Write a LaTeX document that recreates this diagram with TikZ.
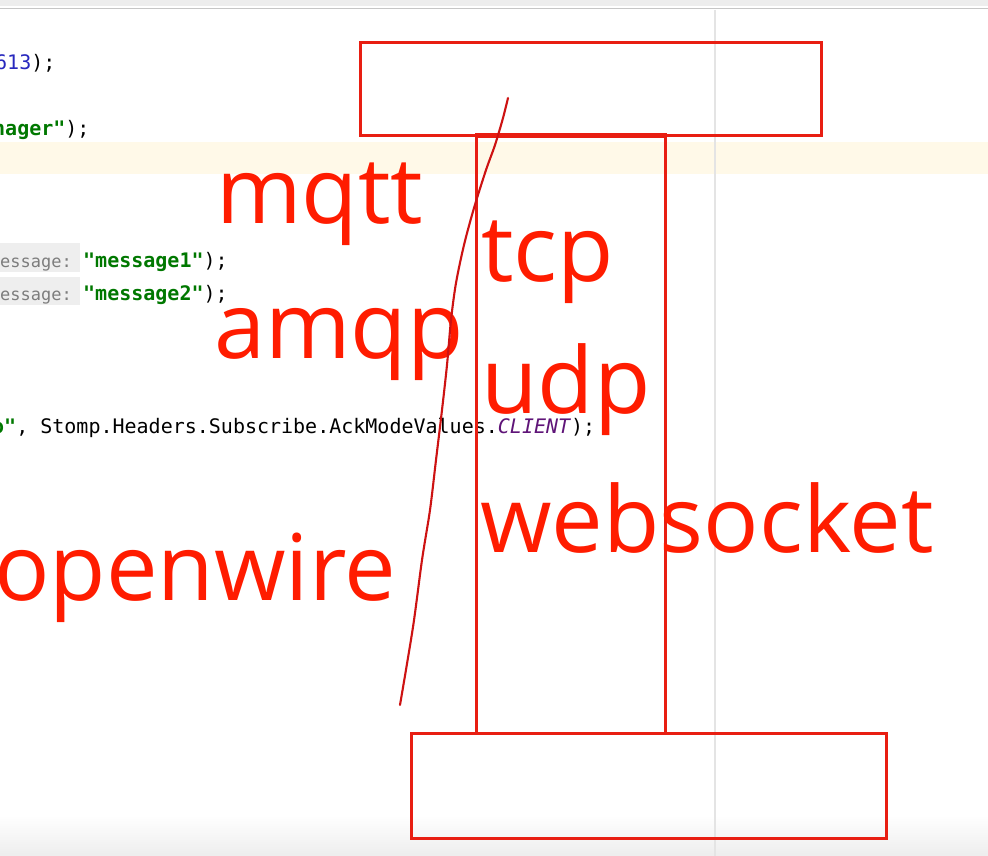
\documentclass[tikz,border=0pt]{standalone}
\usepackage{fontspec}
\setmainfont{Open Sans}
\newfontfamily\codefont{DejaVu Sans Mono}
\usetikzlibrary{calc}
\definecolor{annot}{RGB}{255,28,0}
\definecolor{boxred}{RGB}{232,30,18}
\definecolor{handred}{RGB}{205,18,18}
\definecolor{numblue}{RGB}{40,40,190}
\definecolor{strgreen}{RGB}{0,120,0}
\definecolor{hintgray}{RGB}{125,125,125}
\definecolor{hintbg}{RGB}{238,238,238}
\definecolor{purp}{RGB}{95,20,120}
\definecolor{hilite}{RGB}{255,249,232}
\definecolor{guide}{RGB}{228,228,228}
\tikzset{
  codetext/.style={inner sep=0pt, anchor=base west, font=\codefont\fontsize{20}{24}\selectfont},
  hinttext/.style={inner sep=0pt, anchor=base west, font=\codefont\fontsize{17}{20}\selectfont, text=hintgray},
  bigred/.style={inner sep=0pt, anchor=base west, text=annot, font=\fontsize{92}{100}\selectfont},
  redbox/.style={draw=boxred, line width=3pt},
  handline/.style={draw=handred, line width=2.1pt, line cap=round, line join=round}
}
\begin{document}
\begin{tikzpicture}[x=1pt,y=-1pt]
\useasboundingbox (0,0) rectangle (988,856);
\clip (0,0) rectangle (988,856);
% background
\fill[white] (0,0) rectangle (988,856);
\fill[gray!14] (0,0) rectangle (988,6);
\draw[gray!45, line width=1.6pt] (0,8.5) -- (988,8.5);
\shade[top color=white, bottom color=gray!14] (0,815) rectangle (988,856);
\fill[hilite] (0,142) rectangle (988,174);
\draw[guide, line width=1.2pt] (715,10) -- (715,856);
% hint backgrounds
\fill[hintbg] (0,243) rectangle (80,272);
\fill[hintbg] (0,277) rectangle (80,305);
% code lines
\node[codetext] (l1) at (-5,70) {\textcolor{numblue}{613}\textcolor{black}{);}};
\node[codetext] (l2) at (-7,136) {\textbf{\textcolor{strgreen}{nager"}}\textcolor{black}{);}};
\node[hinttext] (h1) at (0,267) {essage:};
\node[codetext] (l3) at (83,267) {\textbf{\textcolor{strgreen}{"message1"}}\textcolor{black}{);}};
\node[hinttext] (h2) at (0,300) {essage:};
\node[codetext] (l4) at (83,300) {\textbf{\textcolor{strgreen}{"message2"}}\textcolor{black}{);}};
\node[codetext] (l5) at (-8,433) {\textbf{\textcolor{strgreen}{o"}}\textcolor{black}{, Stomp.Headers.Subscribe.AckModeValues.}\textcolor{purp}{\textit{CLIENT}}\textcolor{black}{);}};
% boxes
\draw[redbox] (360,43) rectangle (821,136);
\draw[redbox] (476,135) rectangle (665,733);
\draw[boxred, line width=5pt] (476,135.5) -- (665,135.5);
\draw[redbox] (411,733) rectangle (886,838);
% red labels
\node[bigred] (mqtt) at (216,223) {mqtt};
\node[bigred] (amqp) at (214,358) {amqp};
\node[bigred] (tcp) at (481,281) {tcp};
\node[bigred] (udp) at (481,413) {udp};
\node[bigred] (openwire) at (-6,600) {openwire};
\node[bigred] (websocket) at (480,552) {websocket};
% hand drawn stroke
\draw[handline] plot[smooth, tension=0.5] coordinates {(508,98) (503,118) (495,145) (486,170) (474,208) (464,245) (456,283) (451,320) (447,365) (442,410) (436,460) (430,510) (422,560) (413,627) (400,705)};
\end{tikzpicture}
\end{document}
